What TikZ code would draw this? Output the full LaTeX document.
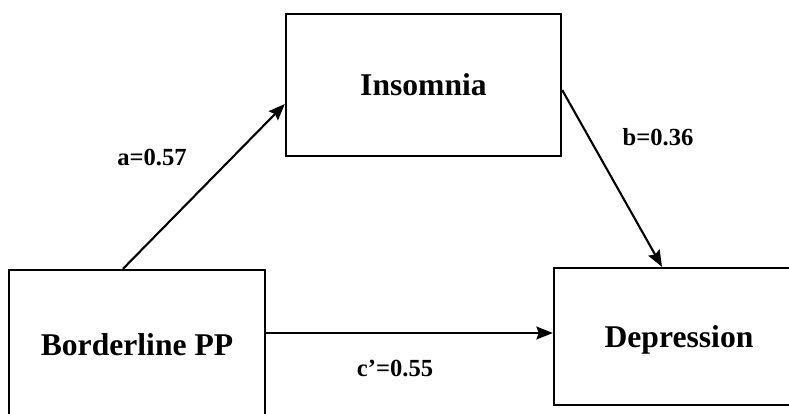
\documentclass[tikz,border=0pt]{standalone}
\usepackage{fontspec}
\setmainfont{Liberation Serif}
\usetikzlibrary{arrows.meta}

\tikzset{
    varbox/.style={draw, line width=2pt, inner sep=0pt, align=center,
                   font=\fontsize{27}{32}\selectfont\bfseries},
    path arrow/.style={line width=1.8pt, -{Stealth[length=14pt, width=11pt, inset=2pt]}},
    coef/.style={font=\fontsize{21}{25}\selectfont\bfseries}
}

\begin{document}
\begin{tikzpicture}[x=0.03cm, y=-0.03cm]
                    % \helpgrid{3}{3}
                    \useasboundingbox (0,0) rectangle (789,413);

                    \node[varbox, minimum width=8.25cm, minimum height=4.26cm] (ins) at (423.5,85) {Insomnia};
                    \node[varbox, minimum width=7.68cm, minimum height=4.5cm] (bpp) at (137,345) {Borderline PP};
                    \node[varbox, minimum width=7.5cm, minimum height=4.11cm, text depth=-0.12cm] (dep) at (679,336.5) {Depression};

                    \draw[path arrow] ([xshift=-0.42cm]bpp.north) -- ([yshift=-0.57cm]ins.west);
                    \draw[path arrow] ([yshift=-0.15cm]ins.east) -- ([xshift=-0.51cm]dep.north);
                    \draw[path arrow] ([yshift=0.36cm]bpp.east) -- ([yshift=0.36cm]bpp.east -| dep.west);

                    \node[coef] (a) at (152,157) {a=0.57};
                    \node[coef] (b) at (658,137) {b=0.36};
                    \node[coef] (c) at (395,368) {c’=0.55};

                \end{tikzpicture}
\end{document}
